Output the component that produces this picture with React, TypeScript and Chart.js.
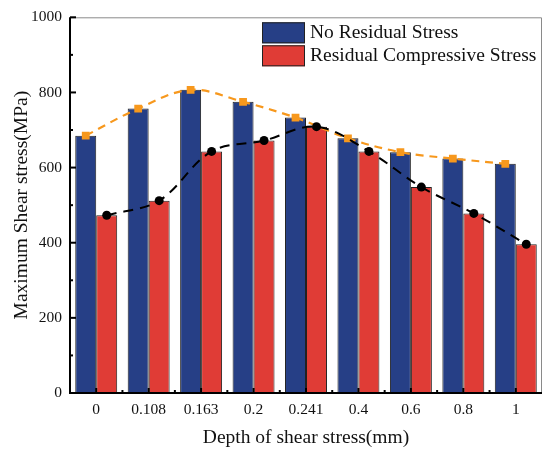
import { useEffect, useRef } from "react";
import { Chart, registerables } from "chart.js";

Chart.register(...registerables);

// depth of shear stress (mm)
const depths = ["0", "0.108", "0.163", "0.2", "0.241", "0.4", "0.6", "0.8", "1"];
// maximum shear stress (MPa)
const noResidual = [685, 757, 807, 775, 733, 678, 641, 624, 610];
const compressive = [473, 512, 643, 672, 709, 643, 548, 478, 396];
const yTicks = [0, 200, 400, 600, 800, 1000];

const BLUE = "#263f86";
const RED = "#e03c36";
const ORANGE = "#f7981d";
const SERIF = "'Liberation Serif', 'DejaVu Serif', serif";
const GROUP = 0.8; // categoryPercentage, the two bars fill it

const framePlugin = {
  id: "frame",
  afterDatasetsDraw(chart: any) {
    const { ctx, chartArea: a, scales } = chart;
    const line = (x1: number, y1: number, x2: number, y2: number) => {
      ctx.beginPath();
      ctx.moveTo(x1, y1);
      ctx.lineTo(x2, y2);
      ctx.stroke();
    };
    ctx.save();
    ctx.strokeStyle = "#8a8a8a";
    ctx.lineWidth = 1;
    ctx.beginPath();
    ctx.moveTo(a.left, a.top + 0.5);
    ctx.lineTo(a.right - 0.5, a.top + 0.5);
    ctx.lineTo(a.right - 0.5, a.bottom);
    ctx.stroke();

    ctx.strokeStyle = "#000";
    ctx.lineWidth = 2;
    line(a.left, a.top, a.left, a.bottom + 1);
    line(a.left - 1, a.bottom, a.right, a.bottom);

    const y = scales.y;
    yTicks.forEach((v, i) => {
      const py = y.getPixelForValue(v);
      line(a.left, py, a.left + 6, py);
      if (i < yTicks.length - 1) {
        const m = y.getPixelForValue((v + yTicks[i + 1]) / 2);
        line(a.left, m, a.left + 3, m);
      }
    });

    const x = scales.x;
    depths.forEach((_, i) => {
      const px = x.getPixelForValue(i);
      line(px, a.bottom, px, a.bottom - 5);
      if (i > 0) {
        const b = x.getPixelForValue(i - 0.5);
        line(b, a.bottom, b, a.bottom - 3);
      }
    });
    ctx.restore();
  },
};

const legendPlugin = {
  id: "boxLegend",
  afterDraw(chart: any) {
    const { ctx, chartArea: a } = chart;
    const bars = chart.data.datasets.filter((d: any) => d.type === "bar");
    ctx.save();
    ctx.font = `19.5px ${SERIF}`;
    ctx.textBaseline = "middle";
    ctx.textAlign = "left";
    bars.forEach((d: any, i: number) => {
      const x = a.right - 280;
      const y = a.top + 5 + i * 23;
      ctx.fillStyle = d.backgroundColor;
      ctx.fillRect(x, y, 43, 21);
      ctx.strokeStyle = "#222";
      ctx.lineWidth = 1;
      ctx.strokeRect(x + 0.5, y + 0.5, 42, 20);
      ctx.fillStyle = "#111";
      ctx.fillText(d.label, x + 48, y + 11);
    });
    ctx.restore();
  },
};

export default function App() {
  const canvasRef = useRef<HTMLCanvasElement>(null);

  useEffect(() => {
    document.body.style.margin = "0";
    if (!canvasRef.current) return;
    const off = GROUP / 4;
    const barStyle = {
      borderColor: "#222",
      borderWidth: 1,
      categoryPercentage: GROUP,
      barPercentage: 1,
      order: 2,
    };
    const chart = new Chart(canvasRef.current, {
      type: "bar",
      data: {
        datasets: [
          {
            type: "line",
            label: "No Residual Stress trend",
            data: noResidual.map((v, i) => ({ x: i - off, y: v })),
            borderColor: ORANGE,
            backgroundColor: ORANGE,
            borderWidth: 2.2,
            borderDash: [8, 6],
            tension: 0.35,
            pointStyle: "rect",
            pointRadius: 5.5,
            pointBorderWidth: 0,
            order: 1,
          } as any,
          {
            type: "line",
            label: "Residual Compressive Stress trend",
            data: compressive.map((v, i) => ({ x: i + off, y: v })),
            borderColor: "#000",
            backgroundColor: "#000",
            borderWidth: 2,
            borderDash: [10, 7],
            tension: 0.35,
            pointStyle: "circle",
            pointRadius: 4.5,
            pointBorderWidth: 0,
            order: 0,
          } as any,
          {
            type: "bar",
            label: "No Residual Stress",
            data: noResidual.map((v, i) => ({ x: i, y: v })),
            backgroundColor: BLUE,
            ...barStyle,
          },
          {
            type: "bar",
            label: "Residual Compressive Stress",
            data: compressive.map((v, i) => ({ x: i, y: v })),
            backgroundColor: RED,
            ...barStyle,
          },
        ],
      },
      options: {
        animation: false,
        responsive: true,
        maintainAspectRatio: false,
        layout: { padding: { top: 14, right: 8, left: 0, bottom: 0 } },
        plugins: { legend: { display: false }, tooltip: { enabled: false } },
        scales: {
          x: {
            type: "linear",
            offset: false,
            min: -0.5,
            max: depths.length - 0.5,
            grid: { display: false, drawTicks: false },
            border: { display: false },
            afterBuildTicks: (s: any) => {
              s.ticks = depths.map((_, i) => ({ value: i }));
            },
            ticks: {
              color: "#111",
              padding: 8,
              autoSkip: false,
              maxRotation: 0,
              font: { family: SERIF, size: 15.5 },
              callback: (v: any) => depths[v] ?? "",
            },
            title: {
              display: true,
              text: "Depth of shear stress(mm)",
              color: "#111",
              font: { family: SERIF, size: 19.5 },
              padding: { top: 0, bottom: 6 },
            },
            afterFit: (s: any) => {
              s.height = 63;
            },
          },
          y: {
            min: yTicks[0],
            max: yTicks[yTicks.length - 1],
            grid: { display: false, drawTicks: false },
            border: { display: false },
            afterBuildTicks: (s: any) => {
              s.ticks = yTicks.map((v) => ({ value: v }));
            },
            ticks: {
              color: "#111",
              padding: 8,
              font: { family: SERIF, size: 15.5 },
              callback: (v: any) => String(v),
            },
            title: {
              display: true,
              text: "Maximum Shear stress(MPa)",
              color: "#111",
              font: { family: SERIF, size: 19.5 },
              padding: { top: 10, bottom: 0 },
            },
            afterFit: (s: any) => {
              s.width = 70;
            },
          },
        },
      },
      plugins: [framePlugin, legendPlugin],
    });
    return () => chart.destroy();
  }, []);

  return (
    <div style={{ width: 550, height: 456, position: "relative", background: "#fff" }}>
      <canvas ref={canvasRef} />
    </div>
  );
}
